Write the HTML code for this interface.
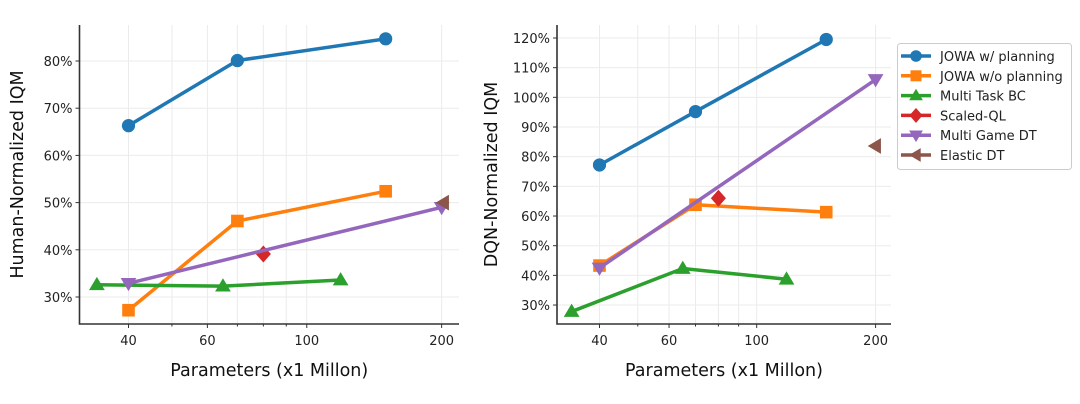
<!DOCTYPE html>
<html><head><meta charset="utf-8"><style>
html,body{margin:0;padding:0;background:#fff;}
svg{display:block;font-family:"DejaVu Sans","Liberation Sans",sans-serif;}
</style></head><body>
<svg id="fig" width="1080" height="404" viewBox="0 0 1080 404" xmlns="http://www.w3.org/2000/svg"></svg>
<script>
const seriesNames = ["JOWA w/ planning","JOWA w/o planning","Multi Task BC","Scaled-QL","Multi Game DT","Elastic DT"];
const colors = ["#1f77b4","#ff7f0e","#2ca02c","#d62728","#9467bd","#8c564b"];
const markers = ["circle","square","triUp","diamond","triDown","triLeft"];
// Left chart (Human-Normalized IQM, %)
const leftX = [[40,70,150],[40,70,150],[34,65,119],[80],[40,200],[202]];
const leftY = [[66.3,80.1,84.7],[27.2,46.1,52.4],[32.6,32.3,33.6],[39.1],[32.9,49.0],[50.0]];
// Right chart (DQN-Normalized IQM, %)
const rightX = [[40,70,150],[40,70,150],[34,65,119],[80],[40,200],[200]];
const rightY = [[77.2,95.2,119.5],[43.3,63.8,61.3],[27.8,42.3,38.7],[66.0],[42.5,106.0],[83.6]];
const xTicks = [40,60,100,200];
const xMinor = [50,70,80,90];
const leftYTicks = [30,40,50,60,70,80];
const rightYTicks = [30,40,50,60,70,80,90,100,110,120];

const NS="http://www.w3.org/2000/svg";
const svg=document.getElementById('fig');
function el(tag,attrs,parent){const e=document.createElementNS(NS,tag);for(const k in attrs)e.setAttribute(k,attrs[k]);(parent||svg).appendChild(e);return e;}

function marker(g,type,cx,cy,color,s){
  let m;
  if(type==="circle") m=el('circle',{cx:cx,cy:cy,r:s*1.05,fill:color},g);
  else if(type==="square") m=el('rect',{x:cx-s,y:cy-s,width:2*s,height:2*s,fill:color},g);
  else{
    let pts;
    if(type==="triUp") pts=[[0,-s*1.25],[s*1.25,s*0.85],[-s*1.25,s*0.85]];
    else if(type==="triDown") pts=[[0,s*1.25],[s*1.25,-s*0.85],[-s*1.25,-s*0.85]];
    else if(type==="triLeft") pts=[[-s*1.25,0],[s*0.85,-s*1.25],[s*0.85,s*1.25]];
    else pts=[[0,-s*1.35],[s*1.2,0],[0,s*1.35],[-s*1.2,0]];
    m=el('polygon',{points:pts.map(p=>(cx+p[0])+","+(cy+p[1])).join(" "),fill:color},g);
  }
  return m;
}

function chart(cfg){
  const g=el('g',{});
  
  
  const xs=v=>cfg.x40+cfg.pxDec*Math.log10(v/40);
  const ys=v=>cfg.yRef+(cfg.vRef-v)*cfg.pxPer;
  xTicks.concat(xMinor).forEach(t=>{
    const l=el('line',{x1:xs(t),x2:xs(t),y1:cfg.top,y2:cfg.bottom,stroke:"#ebebeb","stroke-width":1},g);
    
    
  });
  cfg.yTicks.forEach(t=>{
    const l=el('line',{x1:cfg.left,x2:cfg.right,y1:ys(t),y2:ys(t),stroke:"#ebebeb","stroke-width":1},g);
    
    
  });
  const ax=el('path',{d:`M${cfg.left},${cfg.top} V${cfg.bottom} H${cfg.right}`,fill:"none",stroke:"#333","stroke-width":1.6},g);
  
  
  xTicks.forEach(t=>{
    el('line',{x1:xs(t),x2:xs(t),y1:cfg.bottom,y2:cfg.bottom+4,stroke:"#333"},g);
    const tx=el('text',{x:xs(t),y:cfg.bottom+21,"font-size":13,"text-anchor":"middle",fill:"#222"},g);
    tx.textContent=t;
    
    
  });
  xMinor.forEach(t=>{el('line',{x1:xs(t),x2:xs(t),y1:cfg.bottom,y2:cfg.bottom+2.5,stroke:"#333"},g);});
  cfg.yTicks.forEach(t=>{
    el('line',{x1:cfg.left-4,x2:cfg.left,y1:ys(t),y2:ys(t),stroke:"#333"},g);
    const tx=el('text',{x:cfg.left-7,y:ys(t)+5,"font-size":13,"text-anchor":"end",fill:"#222"},g);
    tx.textContent=t+"%";
    
    
  });
  const xl=el('text',{x:(cfg.left+cfg.right)/2,y:376,"font-size":17.5,"text-anchor":"middle",fill:"#111"},g);
  xl.textContent="Parameters (x1 Millon)";
  
  
  const yl=el('text',{x:0,y:0,"font-size":17.5,"text-anchor":"middle",fill:"#111",transform:`translate(${cfg.ylx},${(cfg.top+cfg.bottom)/2}) rotate(-90)`},g);
  yl.textContent=cfg.ylabel;
  
  
  cfg.X.forEach((xa,i)=>{
    const sg=el('g',{},g);
    
    
    if(xa.length>1){
      const p=el('polyline',{points:xa.map((v,j)=>xs(v)+","+ys(cfg.Y[i][j])).join(" "),fill:"none",stroke:colors[i],"stroke-width":3.5,"stroke-linejoin":"round"},sg);
      
      
    }
    xa.forEach((v,j)=>{
      const m=marker(sg,markers[i],xs(v),ys(cfg.Y[i][j]),colors[i],6.3);
      
      
    });
  });
}

chart({name:'left-chart',X:leftX,Y:leftY,yTicks:leftYTicks,x40:128.5,pxDec:448,yRef:61,vRef:80,pxPer:4.72,left:79.5,right:459,top:25,bottom:324,ylabel:"Human-Normalized IQM",ylx:23});
chart({name:'right-chart',X:rightX,Y:rightY,yTicks:rightYTicks,x40:599.5,pxDec:395,yRef:38,vRef:120,pxPer:2.967,left:557,right:891,top:25,bottom:324,ylabel:"DQN-Normalized IQM",ylx:497});

const lg=el('g',{});


el('rect',{x:897.5,y:43.5,width:174,height:126,rx:3,fill:"#fff",stroke:"#ccc"},lg);
seriesNames.forEach((n,i)=>{
  const y=56+i*19.8;
  const e=el('g',{},lg);
  
  
  el('line',{x1:901,x2:931,y1:y,y2:y,stroke:colors[i],"stroke-width":3.5},e);
  marker(e,markers[i],916,y,colors[i],5.5);
  const t=el('text',{x:940,y:y+5,"font-size":13,fill:"#222"},e);
  t.textContent=n;
});
</script>
</body></html>
